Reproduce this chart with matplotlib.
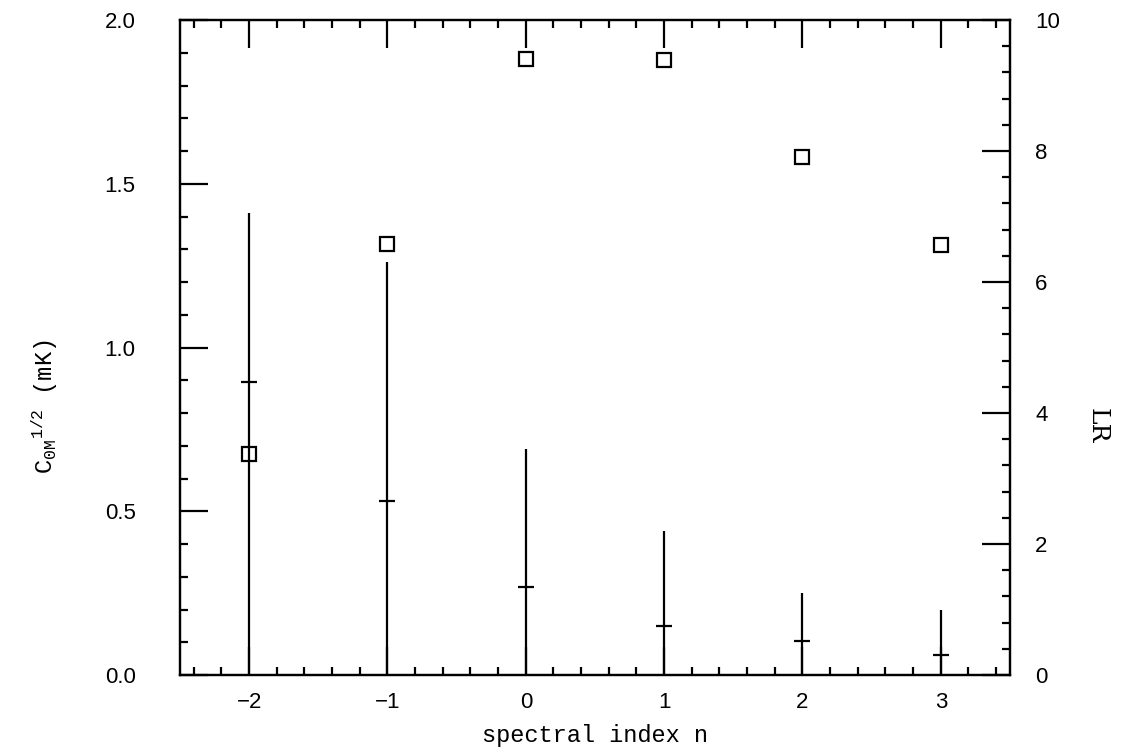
import matplotlib
matplotlib.use("Agg")
import matplotlib.pyplot as plt
import numpy as np
from matplotlib.ticker import MultipleLocator

plt.rcParams["mathtext.fontset"] = "custom"
plt.rcParams["mathtext.rm"] = "Liberation Mono"
plt.rcParams["mathtext.it"] = "Liberation Mono"

# Data
n = [-2, -1, 0, 1, 2, 3]
c_center = [0.895, 0.53, 0.27, 0.15, 0.105, 0.06]
c_low = [0.0, 0.0, 0.0, 0.0, 0.0, 0.0]
c_high = [1.41, 1.26, 0.69, 0.44, 0.25, 0.2]
lr = [3.37, 6.58, 9.41, 9.39, 7.91, 6.56]

fig = plt.figure(figsize=(11.39, 7.52), dpi=100)
ax = fig.add_axes([180/1139, 77/752, 830/1139, 655/752])
ax2 = ax.twinx()

tickfont = "Liberation Sans"
serif = "DejaVu Serif"

# error bars (vertical extents) with centre ticks
ax.vlines(n, c_low, c_high, color="black", lw=1.6)
ax.plot(n, c_center, linestyle="none", marker="_", markersize=11,
        markeredgewidth=1.6, color="black")

ax2.plot(n, lr, linestyle="none", marker="s", markersize=10,
         markerfacecolor="none", markeredgecolor="black", markeredgewidth=1.6)

ax.set_xlim(-2.5, 3.5)
ax.set_ylim(0, 2.0)
ax2.set_ylim(0, 10)

ax.xaxis.set_major_locator(MultipleLocator(1))
ax.xaxis.set_minor_locator(MultipleLocator(0.2))
ax.yaxis.set_major_locator(MultipleLocator(0.5))
ax.yaxis.set_minor_locator(MultipleLocator(0.1))
ax2.yaxis.set_major_locator(MultipleLocator(2))
ax2.yaxis.set_minor_locator(MultipleLocator(0.4))

ax.tick_params(axis="x", which="major", direction="in", length=20, width=1.6,
               top=True, bottom=True, pad=12, labelsize=16)
ax.tick_params(axis="x", which="minor", direction="in", length=6, width=1.6,
               top=True, bottom=True)
ax.tick_params(axis="y", which="major", direction="in", length=20, width=1.6,
               left=True, right=False, pad=32, labelsize=16)
ax.tick_params(axis="y", which="minor", direction="in", length=6, width=1.6,
               left=True, right=False)
ax2.tick_params(axis="y", which="major", direction="in", length=20, width=1.6,
                pad=18, labelsize=16)
ax2.tick_params(axis="y", which="minor", direction="in", length=6, width=1.6)

ax.set_xticks(n)
ax.set_xticklabels(["\u22122", "\u22121", "0", "1", "2", "3"], fontfamily=tickfont)
ax.set_yticks([0, 0.5, 1.0, 1.5, 2.0])
ax.set_yticklabels(["0.0", "0.5", "1.0", "1.5", "2.0"], fontfamily=tickfont)
ax2.set_yticks([0, 2, 4, 6, 8, 10])
ax2.set_yticklabels(["0", "2", "4", "6", "8", "10"], fontfamily=tickfont)

for a in (ax, ax2):
    for s in a.spines.values():
        s.set_linewidth(1.6)

ax.set_xlabel("spectral index n", fontfamily="Liberation Mono", fontsize=17,
              labelpad=8)
ax.set_ylabel(r"C$_{\rm 0M}$$^{\rm 1/2}$ (mK)", fontfamily="Liberation Mono",
              fontsize=17)
ax.yaxis.set_label_coords(-0.145, 0.41)
ax2.set_ylabel("LR", fontfamily=serif, fontsize=18, rotation=270, va="center")
ax2.yaxis.set_label_coords(1.105, 0.38)

fig.savefig("out.png", dpi=100)
